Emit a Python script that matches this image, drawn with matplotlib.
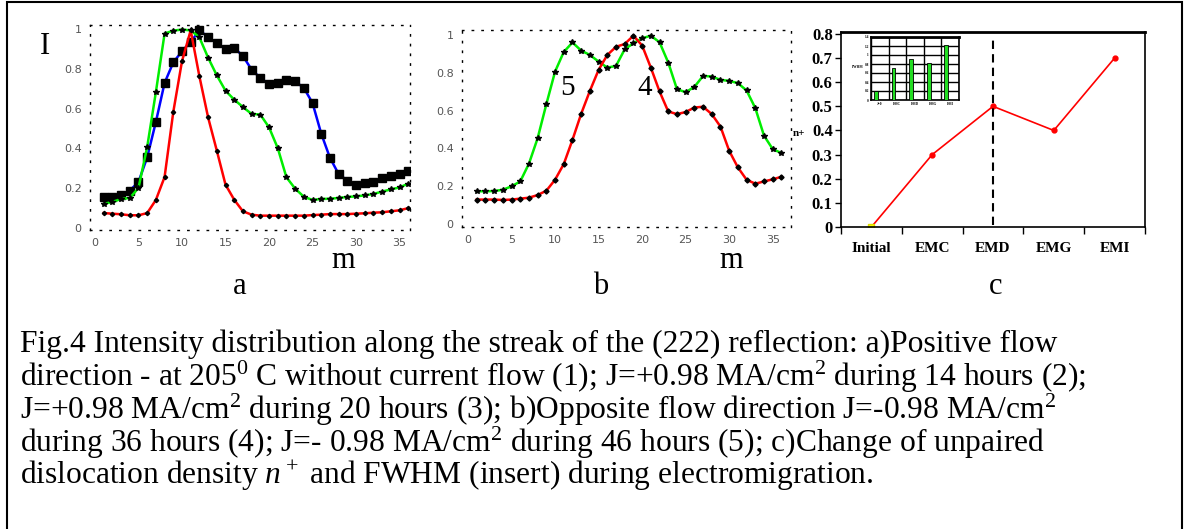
import matplotlib
matplotlib.use("Agg")
import matplotlib.pyplot as plt
from matplotlib.patches import Rectangle

plt.rcParams['font.family'] = ['Liberation Serif', 'DejaVu Serif']
plt.rcParams['mathtext.fontset'] = 'custom'
plt.rcParams['mathtext.rm'] = 'Liberation Serif'
plt.rcParams['mathtext.it'] = 'Liberation Serif:italic'

# panel a: positive flow direction
m = list(range(1, 37))
a_blue = [0.156, 0.154, 0.166, 0.188, 0.231, 0.355, 0.533, 0.729, 0.832, 0.888,
          0.935, 0.993, 0.960, 0.928, 0.900, 0.905, 0.864, 0.796, 0.754, 0.724,
          0.729, 0.744, 0.737, 0.704, 0.628, 0.474, 0.353, 0.271, 0.238, 0.216,
          0.224, 0.231, 0.251, 0.261, 0.271, 0.286]
a_green = [0.121, 0.131, 0.146, 0.151, 0.201, 0.407, 0.683, 0.977, 0.992, 0.997,
           0.993, 0.958, 0.856, 0.767, 0.690, 0.645, 0.608, 0.573, 0.570, 0.506,
           0.402, 0.255, 0.198, 0.157, 0.141, 0.146, 0.147, 0.151, 0.156, 0.159,
           0.164, 0.171, 0.183, 0.194, 0.204, 0.223]
a_red = [0.075, 0.072, 0.069, 0.064, 0.064, 0.075, 0.141, 0.256, 0.583, 0.838,
         0.993, 0.762, 0.556, 0.389, 0.218, 0.142, 0.084, 0.067, 0.062, 0.062,
         0.062, 0.062, 0.062, 0.062, 0.065, 0.067, 0.070, 0.070, 0.070, 0.072,
         0.074, 0.077, 0.079, 0.084, 0.089, 0.100]

# panel b: opposite flow direction
b_green = [0.173, 0.173, 0.174, 0.181, 0.199, 0.225, 0.319, 0.454, 0.634, 0.806,
           0.910, 0.960, 0.917, 0.894, 0.859, 0.827, 0.836, 0.924, 0.956, 0.982,
           0.996, 0.961, 0.854, 0.713, 0.697, 0.725, 0.783, 0.780, 0.762, 0.757,
           0.745, 0.706, 0.613, 0.467, 0.396, 0.375]
b_red = [0.129, 0.129, 0.129, 0.127, 0.129, 0.134, 0.139, 0.153, 0.176, 0.234,
         0.317, 0.445, 0.583, 0.704, 0.815, 0.894, 0.937, 0.952, 0.996, 0.944,
         0.827, 0.701, 0.595, 0.581, 0.592, 0.616, 0.620, 0.581, 0.515, 0.387,
         0.299, 0.234, 0.213, 0.225, 0.236, 0.250]

# panel c: unpaired dislocation density and FWHM insert
stages = ['Initial', 'EMC', 'EMD', 'EMG', 'EMI']
n_plus = [0.0, 0.3, 0.5, 0.4, 0.7]
fwhm_labels = ['J=0', 'EMC', 'EMD', 'EMG', 'EMI']
fwhm = [0.21, 0.71, 0.91, 0.82, 1.22]

caption = [
    "Fig.4 Intensity distribution along the streak of the (222) reflection: a)Positive flow",
    "direction - at 205$^0$ C without current flow (1); J=+0.98 MA/cm$^2$ during 14 hours (2);",
    "J=+0.98 MA/cm$^2$ during 20 hours (3); b)Opposite flow direction J=-0.98 MA/cm$^2$",
    "during 36 hours (4); J=- 0.98 MA/cm$^2$ during 46 hours (5); c)Change of unpaired",
    "dislocation density $n^+$ and FWHM (insert) during electromigration.",
]

W, H = 1185, 529
fig = plt.figure(figsize=(W / 100, H / 100), dpi=100)


def box(l, t, r, b):
    return [l / W, 1 - b / H, (r - l) / W, (b - t) / H]


def px(x, y):
    return x / W, 1 - y / H


def dotted_axes(ax):
    for s in ax.spines.values():
        s.set_linestyle((0, (1, 6)))
        s.set_linewidth(1.0)
    ax.tick_params(length=0, labelsize=8, labelcolor='#555555', pad=6)
    ax.set_xticks(range(0, 36, 5))
    ax.set_yticks([0, 0.2, 0.4, 0.6, 0.8, 1.0])
    ax.set_yticklabels(['0', '0.2', '0.4', '0.6', '0.8', '1'])
    for t in ax.get_xticklabels() + ax.get_yticklabels():
        t.set_family('DejaVu Sans')


# outer frame
fig.add_artist(Rectangle((7 / W, -0.01), 1175 / W, 1 - 2 / H + 0.01,
                         transform=fig.transFigure, fill=False, lw=1.5, ec='black'))

# panel a
ax1 = fig.add_axes(box(90, 25, 410, 230))
ax1.plot(m, a_blue, color='#0000ff', lw=1.8, marker='s', ms=5.5, mfc='black', mec='black')
ax1.plot(m, a_green, color='#00ee00', lw=1.8, marker='*', ms=4, mfc='black', mec='black')
ax1.plot(m, a_red, color='#ff0000', lw=1.8, marker='D', ms=2.2, mfc='black', mec='black')
ax1.set_xlim(-0.57, 36.2)
ax1.set_ylim(-0.01, 1.02)
dotted_axes(ax1)

# panel b
ax2 = fig.add_axes(box(462, 30, 791, 227))
ax2.plot(m, b_green, color='#00ee00', lw=1.8, marker='*', ms=4, mfc='black', mec='black')
ax2.plot(m, b_red, color='#ff0000', lw=1.8, marker='D', ms=2.6, mfc='black', mec='black')
ax2.set_xlim(-0.69, 37.1)
ax2.set_ylim(-0.016, 1.026)
dotted_axes(ax2)
ax2.text(11.4, 0.72, '5', fontsize=21, ha='center', va='center')
ax2.text(20.3, 0.72, '4', fontsize=21, ha='center', va='center')

# panel c
ax3 = fig.add_axes(box(841, 32, 1145, 227))
xc = [i + 0.5 for i in range(len(stages))]
ax3.plot(xc, n_plus, color='#ff0000', lw=1.2, marker='o', ms=3.5)
ax3.plot(xc[0], n_plus[0], marker='s', ms=4, color='#ffff00', mec='#dddd00')
ax3.plot([2.5, 2.5], [0.01, 0.79], color='black', lw=1.5, ls=(0, (4, 2.5)))
ax3.set_xlim(0, 5)
ax3.set_ylim(0, 0.808)
ax3.set_xticks(range(6))
ax3.set_xticklabels([])
ax3.set_xticks(xc, minor=True)
ax3.set_xticklabels(stages, minor=True, fontsize=11, fontweight='bold')
ax3.tick_params(axis='x', which='minor', length=0, pad=11)
ax3.tick_params(axis='x', which='major', length=5, width=1)
ax3.set_yticks([0, 0.1, 0.2, 0.3, 0.4, 0.5, 0.6, 0.7, 0.8])
ax3.set_yticklabels(['0', '0.1', '0.2', '0.3', '0.4', '0.5', '0.6', '0.7', '0.8'],
                    fontsize=12, fontweight='bold')
ax3.tick_params(axis='y', length=4, width=1, pad=2)
for s in ax3.spines.values():
    s.set_linewidth(1.2)
ax3.spines['top'].set_linewidth(2)
fig.text(*px(799, 133), 'n+', fontsize=8, fontweight='bold', ha='center', va='center')

# insert with FWHM bars
ax4 = fig.add_axes(box(871, 37, 959, 100))
ax4.bar([i + 0.28 for i in range(5)], fwhm, width=0.22, color='#22dd22',
        edgecolor='black', lw=0.6, align='center', zorder=3)
ax4.set_xlim(0, 5)
ax4.set_ylim(0, 1.4)
ax4.set_xticks(range(6))
ax4.set_xticklabels([])
ax4.set_xticks([i + 0.5 for i in range(5)], minor=True)
ax4.set_xticklabels(fwhm_labels, minor=True, fontsize=2.5, fontweight='bold')
ax4.set_yticks([0, 0.2, 0.4, 0.6, 0.8, 1.0, 1.2, 1.4])
ax4.set_yticklabels(['0', '0.2', '0.4', '0.6', '0.8', '1', '1.2', '1.4'],
                    fontsize=2.5, fontweight='bold')
ax4.tick_params(which='both', length=0, pad=1.5)
ax4.grid(True, color='black', lw=1.0, zorder=0)
for s in ax4.spines.values():
    s.set_linewidth(1.2)
ax4.spines['top'].set_linewidth(2)
ax4.set_ylabel('FWHM', fontsize=2.5, fontweight='bold', rotation=0, labelpad=5)

# axis letters
fig.text(*px(45, 47), 'I', fontsize=22, ha='center', va='center')
fig.text(*px(343, 261), 'm', fontsize=22, ha='center', va='center')
fig.text(*px(731, 261), 'm', fontsize=22, ha='center', va='center')
fig.text(*px(240, 287), 'a', fontsize=22, ha='center', va='center')
fig.text(*px(601, 287), 'b', fontsize=22, ha='center', va='center')
fig.text(*px(996, 287), 'c', fontsize=22, ha='center', va='center')

# caption
for i, line in enumerate(caption):
    fig.text(*px(20, 344 + i * 33), line, fontsize=22.7, ha='left', va='center')

fig.savefig('out.png', dpi=100)
